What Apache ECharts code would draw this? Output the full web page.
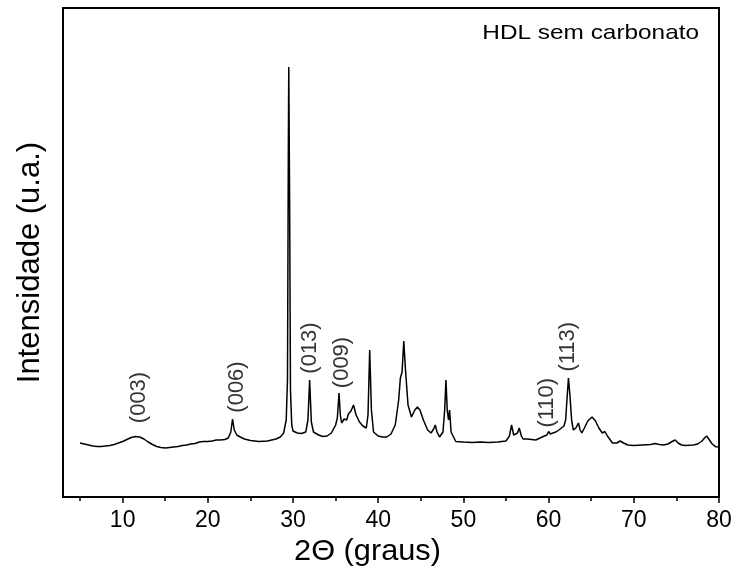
<!DOCTYPE html>
<html>
<head>
<meta charset="utf-8">
<script src="https://cdn.jsdelivr.net/npm/echarts@6/dist/echarts.min.js"></script>
<style>html,body{margin:0;padding:0;background:#fff}#c{width:737px;height:577px}</style>
</head>
<body>
<div id="c"></div>
<script>
// 2θ (degrees)
var twoTheta = [5.0,5.5,6.0,6.5,7.0,7.5,8.0,8.5,9.0,9.5,10.0,10.5,11.0,11.5,12.0,12.5,13.0,13.5,14.0,14.5,15.0,15.5,16.0,16.5,17.0,17.5,18.0,18.5,19.0,19.5,20.0,20.5,21.0,21.5,22.0,22.4,22.7,22.9,23.1,23.4,23.8,24.3,25.0,26.0,27.0,28.0,28.5,28.9,29.2,29.35,29.45,29.5,29.6,29.7,29.85,30.0,30.5,31.0,31.5,31.75,31.95,32.15,32.4,33.0,33.5,34.0,34.5,35.0,35.2,35.4,35.55,35.7,36.0,36.3,36.5,36.8,37.1,37.4,37.8,38.2,38.6,38.8,39.0,39.2,39.45,40.0,40.5,41.0,41.5,42.0,42.4,42.6,42.8,43.0,43.2,43.5,43.9,44.3,44.6,44.9,45.3,45.8,46.2,46.5,46.7,46.9,47.2,47.6,47.8,47.95,48.1,48.25,48.38,48.55,49.1,50,51,52,53,54,55,55.4,55.65,55.9,56.1,56.35,56.55,56.8,57.0,57.5,58.0,58.5,59.0,59.5,59.8,60.0,60.2,60.5,60.85,61.2,61.5,61.8,62.0,62.15,62.33,62.5,62.7,62.9,63.2,63.5,63.7,63.9,64.2,64.6,65.1,65.5,65.9,66.3,66.6,66.9,67.5,68.0,68.4,68.6,68.8,69.3,70,71,72,72.5,72.7,73.0,73.5,74.0,74.5,74.85,75.2,75.6,76.0,77.0,77.5,78.0,78.3,78.55,78.8,79.2,79.6,80.0];
// intensity (a.u.)
var intensity = [54,53,52,51,50.5,50.5,51,51.5,52.5,54,55.5,57.5,59.5,60.5,60,58,55,52.5,50.5,49.5,49,49.5,50,50.5,51.5,52,53,53.5,55,55.5,55.5,56,57,57,57.5,59,65,78,67,62,60,58,56.5,55.5,56,58,60,64,77,117,347,430,297,107,72,66,64,63.5,65,77,117,75,65,62,60.5,61,64,72,79,104,82,74,78,77,83,86,92,82,75,71,69,82,147,87,65,61,60,60,63,72,97,119,125,156,127,92,80,87,90,87,77,67,64,68,72,65,60,65,87,117,87,77,87,65,55.5,55,54.5,55,54.5,55,56,61,72,62,60,64,69,61,58,58,57.5,57,59,61,62,65.5,63,64,65,67,69,71,77,97,119,102,77,67,69,74,67,64,69,76,80,76,69,64,65.5,61,54,54,56,57,54,52,51.5,52,52.5,53.5,54,52.5,52,53,55.5,57,54,52,51.5,52,53,56,59,61,58,53,50.3,50];
// peak annotations
var peakLabels = ["(003)","(006)","(013)","(009)","(110)","(113)"];
var peakX = [11.97,23.39,32.0,35.73,59.76,62.32];
var peakY = [99.5,110,149,134.5,94.3,150.3];
var majorTicks = [10,20,30,40,50,60,70,80];
var minorTicks = [5,15,25,35,45,55,65,75];

var lineData = twoTheta.map(function(x,i){return [x,intensity[i]];});
var labelData = peakX.map(function(x,i){return {value:[x,peakY[i]], name:peakLabels[i]};});

var chart = echarts.init(document.getElementById('c'), null, {renderer:'canvas'});
var font = 'Arial, "Liberation Sans", sans-serif';
chart.setOption({
  animation:false,
  backgroundColor:'#fff',
  grid:{left:63,right:18,top:8,bottom:80,show:true,borderColor:'#000',borderWidth:2,backgroundColor:'transparent'},
  xAxis:[{
    type:'value',min:3,max:80,position:'bottom',
    axisLine:{show:true,lineStyle:{color:'#000',width:2}},
    axisTick:{show:true,inside:false,length:6,lineStyle:{color:'#000',width:1.5},customValues:majorTicks},
    axisLabel:{show:true,customValues:majorTicks,fontSize:23,color:'#000',fontFamily:font,margin:12},
    splitLine:{show:false}
  },{
    type:'value',min:3,max:80,position:'bottom',gridIndex:0,
    axisLine:{show:false},
    axisTick:{show:true,inside:false,length:4,lineStyle:{color:'#000',width:1.5},customValues:minorTicks},
    axisLabel:{show:false},splitLine:{show:false}
  }],
  yAxis:{
    type:'value',min:0,max:489,
    axisLine:{show:true,lineStyle:{color:'#000',width:2}},
    axisTick:{show:false},axisLabel:{show:false},splitLine:{show:false}
  },
  graphic:[{
    type:'text',
    x:699,y:33.5,originX:0,originY:0,scaleX:1.16,
    style:{text:'HDL sem carbonato',fontSize:21,fontFamily:font,fill:'#000',align:'right',verticalAlign:'middle'}
  },{
    type:'text',
    x:367.5,y:552,originX:0,originY:0,scaleX:1.06,
    style:{text:'2\u0398 (graus)',fontSize:29,fontFamily:font,fill:'#000',align:'center',verticalAlign:'middle'}
  },{
    type:'text',
    x:30,y:262.5,rotation:Math.PI/2,
    style:{text:'Intensidade (u.a.)',fontSize:31,fontFamily:font,fill:'#000',align:'center',verticalAlign:'middle'}
  }],
  series:[{
    type:'line',data:lineData,symbol:'none',showSymbol:false,
    lineStyle:{color:'#000',width:1.5},z:2
  },{
    type:'scatter',data:labelData,symbolSize:0,z:3,
    label:{show:true,position:'inside',rotate:90,formatter:function(p){return p.name;},
      fontSize:22,color:'#000',textBorderWidth:0,fontFamily:font}
  }]
});
</script>
</body>
</html>
